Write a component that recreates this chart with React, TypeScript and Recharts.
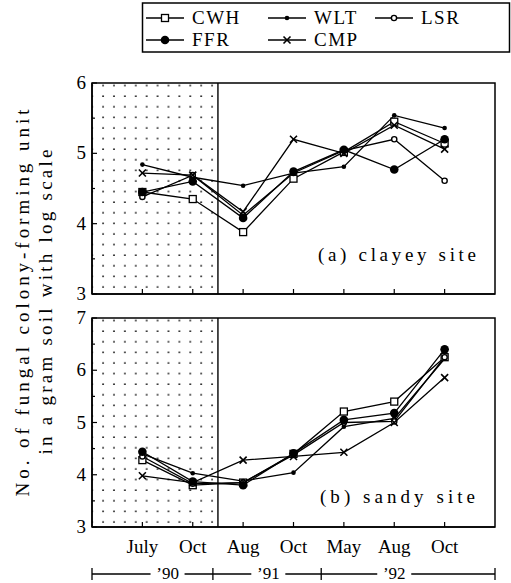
import React from "react";
import { LineChart, Line, XAxis, YAxis, ReferenceArea, ReferenceLine } from "recharts";

// sampling dates, in order (x index 0..6)
const months = ["July", "Oct", "Aug", "Oct", "May", "Aug", "Oct"];
const years = ["’90", "’91", "’92"];
const yearCenters = [0.5, 2.5, 5];
const yearBounds = [-1, 1.4, 3.55, 7];

// (a) clayey site, log CFU
const clayCWH = [4.45, 4.35, 3.88, 4.64, 5.02, 5.45, 5.14];
const clayWLT = [4.84, 4.66, 4.54, 4.72, 4.81, 5.54, 5.36];
const clayLSR = [4.38, 4.69, 4.12, 4.72, 5.04, 5.2, 4.61];
const clayFFR = [4.45, 4.6, 4.08, 4.74, 5.05, 4.77, 5.2];
const clayCMP = [4.72, 4.69, 4.17, 5.2, 5.0, 5.4, 5.06];

// (b) sandy site, log CFU
const sandCWH = [4.28, 3.8, 3.85, 4.4, 5.21, 5.4, 6.25];
const sandWLT = [4.4, 4.03, 3.88, 4.04, 4.92, 5.08, 6.22];
const sandLSR = [4.35, 3.83, 3.85, 4.38, 5.0, 5.02, 6.25];
const sandFFR = [4.44, 3.87, 3.8, 4.41, 5.05, 5.18, 6.4];
const sandCMP = [3.98, 3.85, 4.28, 4.35, 4.43, 5.0, 5.86];

const series = [
  { key: "CWH", kind: "square" },
  { key: "WLT", kind: "dot" },
  { key: "LSR", kind: "ring" },
  { key: "FFR", kind: "disc" },
  { key: "CMP", kind: "cross" },
];

const clayData = months.map((m, i) => ({
  x: i,
  month: m,
  CWH: clayCWH[i],
  WLT: clayWLT[i],
  LSR: clayLSR[i],
  FFR: clayFFR[i],
  CMP: clayCMP[i],
}));

const sandData = months.map((m, i) => ({
  x: i,
  month: m,
  CWH: sandCWH[i],
  WLT: sandWLT[i],
  LSR: sandLSR[i],
  FFR: sandFFR[i],
  CMP: sandCMP[i],
}));

const FONT = "'Liberation Serif', 'DejaVu Serif', serif";
const txt = { fontFamily: FONT };

function Marker({ kind, cx, cy }: { kind: string; cx: number; cy: number }) {
  if (cx == null || cy == null) return null;
  switch (kind) {
    case "square":
      return <rect x={cx - 3.5} y={cy - 3.5} width={7} height={7} fill="#fff" stroke="#000" strokeWidth={1.3} />;
    case "dot":
      return <circle cx={cx} cy={cy} r={2.3} fill="#000" />;
    case "ring":
      return <circle cx={cx} cy={cy} r={2.6} fill="#fff" stroke="#000" strokeWidth={1.4} />;
    case "disc":
      return <circle cx={cx} cy={cy} r={4.3} fill="#000" />;
    default:
      return (
        <g stroke="#000" strokeWidth={1.6}>
          <line x1={cx - 3.5} y1={cy - 3.5} x2={cx + 3.5} y2={cy + 3.5} />
          <line x1={cx - 3.5} y1={cy + 3.5} x2={cx + 3.5} y2={cy - 3.5} />
        </g>
      );
  }
}

function YTick(props: any) {
  const { x, y, payload } = props;
  const v = payload.value;
  const major = Number.isInteger(v);
  return (
    <g>
      <line x1={x} y1={y} x2={x + (major ? 5 : 3)} y2={y} stroke="#000" strokeWidth={1.2} />
      {major && (
        <text x={x - 6} y={y} dy={6} textAnchor="end" fontSize={19} style={txt} fill="#000">
          {v}
        </text>
      )}
    </g>
  );
}

function XTick(props: any) {
  const { x, y, payload, showLabels } = props;
  return (
    <g>
      <line x1={x} y1={y} x2={x} y2={y - 5} stroke="#000" strokeWidth={1.2} />
      {showLabels && (
        <text x={x} y={y + 26} textAnchor="middle" fontSize={19} style={txt} fill="#000">
          {months[payload.value]}
        </text>
      )}
    </g>
  );
}

function YearTick(props: any) {
  const { x, y, payload } = props;
  const ci = yearCenters.indexOf(payload.value);
  if (ci >= 0) {
    return (
      <g>
        <rect x={x - 17} y={y - 4} width={34} height={8} fill="#fff" />
        <text x={x} y={y + 5} textAnchor="middle" fontSize={17} style={txt} fill="#000">
          {years[ci]}
        </text>
      </g>
    );
  }
  return <line x1={x} y1={y - 6} x2={x} y2={y + 6} stroke="#000" strokeWidth={1.3} />;
}

function Panel({ data, lo, hi, top, height, bottomAxes, id }: any) {
  const yTicks: number[] = [];
  for (let v = lo; v <= hi; v += 0.5) yTicks.push(v);
  return (
    <div style={{ position: "absolute", left: 0, top, width: 511, height }}>
      <LineChart
        width={511}
        height={height}
        data={data}
        margin={{ top: 13, right: 16, bottom: bottomAxes ? 0 : 10, left: 0 }}
      >
        <defs>
          <pattern id={id} width={10.9} height={10.6} patternUnits="userSpaceOnUse">
            <circle cx={5} cy={5} r={0.85} fill="#000" />
          </pattern>
        </defs>
        <XAxis
          dataKey="x"
          type="number"
          domain={[-1, 7]}
          allowDataOverflow
          ticks={[0, 1, 2, 3, 4, 5, 6]}
          interval={0}
          height={bottomAxes ? 47 : 6}
          tickSize={0}
          tickMargin={0}
          axisLine={{ stroke: "#000", strokeWidth: 1.5 }}
          tick={(p: any) => <XTick {...p} showLabels={bottomAxes} />}
        />
        {bottomAxes && (
          <XAxis
            xAxisId="yr"
            dataKey="x"
            type="number"
            domain={[-1, 7]}
            allowDataOverflow
            ticks={[...yearBounds, ...yearCenters].sort((a, b) => a - b)}
            interval={0}
            height={9}
            tickSize={0}
            tickMargin={0}
            axisLine={{ stroke: "#000", strokeWidth: 1.3 }}
            tick={(p: any) => <YearTick {...p} />}
          />
        )}
        <YAxis
          type="number"
          domain={[lo, hi]}
          ticks={yTicks}
          interval={0}
          width={92}
          tickSize={0}
          tickMargin={0}
          axisLine={{ stroke: "#000", strokeWidth: 1.5 }}
          tick={(p: any) => <YTick {...p} />}
        />
        <ReferenceArea x1={-1} x2={1.5} y1={lo} y2={hi} fill={`url(#${id})`} fillOpacity={1} stroke="none" />
        <ReferenceArea x1={-1} x2={7} y1={lo} y2={hi} fill="none" stroke="#000" strokeWidth={1.5} />
        <ReferenceLine x={1.5} stroke="#000" strokeWidth={1.4} />
        {series.map((s) => (
          <Line
            key={s.key}
            dataKey={s.key}
            stroke="#000"
            strokeWidth={1.3}
            isAnimationActive={false}
            dot={(p: any) => <Marker key={`${s.key}-${p.index}`} kind={s.kind} cx={p.cx} cy={p.cy} />}
          />
        ))}
      </LineChart>
    </div>
  );
}

function LegendItem({ x, y, kind, label }: any) {
  return (
    <g>
      <line x1={x} y1={y} x2={x + 38} y2={y} stroke="#000" strokeWidth={1.3} />
      <Marker kind={kind} cx={x + 19} cy={y} />
      <text x={x + 46} y={y + 6} fontSize={19} style={txt} letterSpacing={1.5} fill="#000">
        {label}
      </text>
    </g>
  );
}

export default function App() {
  return (
    <div style={{ position: "absolute", left: 0, top: 0, width: 511, height: 583, background: "#fff" }}>
      <svg style={{ position: "absolute", left: 0, top: 0 }} width={511} height={583}>
        <rect x={142.5} y={3} width={367} height={49} fill="none" stroke="#000" strokeWidth={1.5} />
        <LegendItem x={146} y={18} kind="square" label="CWH" />
        <LegendItem x={268} y={18} kind="dot" label="WLT" />
        <LegendItem x={375} y={18} kind="ring" label="LSR" />
        <LegendItem x={146} y={40} kind="disc" label="FFR" />
        <LegendItem x={268} y={40} kind="cross" label="CMP" />
        <text
          transform="translate(29,303) rotate(-90)"
          textAnchor="middle"
          fontSize={19}
          style={txt}
          textLength={387}
          lengthAdjust="spacing"
        >
          No. of fungal colony-forming unit
        </text>
        <text
          transform="translate(52,302) rotate(-90)"
          textAnchor="middle"
          fontSize={19}
          style={txt}
          textLength={305}
          lengthAdjust="spacing"
        >
          in a gram soil with log scale
        </text>
      </svg>
      <Panel data={clayData} lo={3} hi={6} top={70} height={240} bottomAxes={false} id="dotsA" />
      <Panel data={sandData} lo={3} hi={7} top={305} height={278} bottomAxes={true} id="dotsB" />
      <svg style={{ position: "absolute", left: 0, top: 0, pointerEvents: "none" }} width={511} height={583}>
        <text x={318} y={261} fontSize={19} style={txt} textLength={158} lengthAdjust="spacing">
          (a) clayey site
        </text>
        <text x={320} y={503} fontSize={19} style={txt} textLength={155} lengthAdjust="spacing">
          (b) sandy site
        </text>
      </svg>
    </div>
  );
}
